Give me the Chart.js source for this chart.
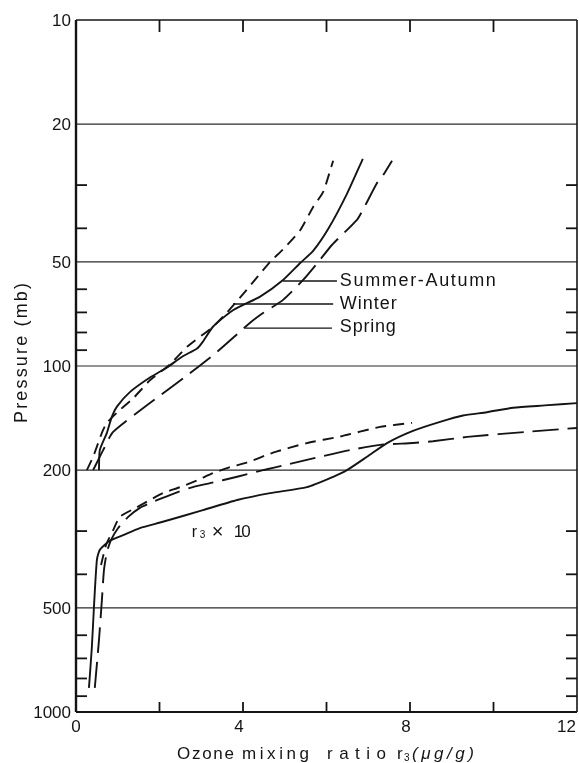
<!DOCTYPE html>
<html><head><meta charset="utf-8">
<script src="https://cdn.jsdelivr.net/npm/chart.js@4.4.1/dist/chart.umd.min.js"></script>
<style>html,body{margin:0;padding:0;background:#fff;overflow:hidden}</style>
</head><body>
<canvas id="c" width="579" height="763"></canvas>
<script>
// ---- tick values ----
const pressureTickLabels = [10, 20, 50, 100, 200, 500, 1000];
const gridPressures = [20, 50, 100, 200, 500];
const minorPressures = [30, 40, 60, 70, 80, 90, 300, 400, 600, 700, 800, 900];
const xTickLabels = [0, 4, 8, 12];
const xTickMarks = [2, 4, 6, 8, 10];
const seasonNames = ['Summer-Autumn', 'Winter', 'Spring'];

// ---- ozone mixing ratio r3 (ug/g) vs pressure (mb), upper group ----
const upperSummerAutumn = [[0.26,200],[0.41,183],[0.62,156],[0.74,146],[1.05,134],[1.37,124],[1.77,110],[2.25,99],[2.66,88],[3.28,77],[3.62,70],[4.0,62],[4.36,55],[4.65,50],[4.96,46],[5.37,40.5],[5.68,34.7],[5.92,31.4],[6.16,25.5]];
const upperWinter = [[0.55,200],[0.57,175],[0.74,156],[0.86,140],[0.98,131],[1.29,119],[1.77,108],[2.18,101],[2.54,94],[2.90,89],[3.04,85],[3.28,77],[3.76,69],[4.41,63],[4.96,56.4],[5.37,50.4],[5.68,46.5],[6.05,40],[6.49,31.8],[6.87,25.2]];
const upperSpring = [[0.41,200],[0.65,175],[0.89,155],[1.77,128],[2.68,106],[3.38,91],[4.17,75],[4.48,70.3],[4.96,64.4],[5.44,56.4],[5.84,49.4],[6.13,44.7],[6.73,37.8],[6.87,35.4],[7.21,29.6],[7.33,28.4],[7.57,25.5]];

// ---- r3 x 10, lower group ----
const lowerSummerAutumn = [[0.60,376],[0.72,329],[0.89,298],[1.05,273],[1.46,256],[1.77,244],[2.08,233],[2.49,224],[2.90,214],[3.28,204],[3.69,196],[4.10,190],[4.72,178],[5.53,167],[6.32,160],[7.28,150],[8.05,146]];
const lowerWinter = [[0.31,852],[0.38,649],[0.43,497],[0.50,364],[0.57,340],[0.81,320],[1.13,308],[1.53,294],[2.08,282],[3.04,261],[3.86,244],[4.65,233],[5.53,224],[6.16,209],[6.49,200],[6.97,183],[7.45,167],[8.07,154],[8.72,145],[9.27,139],[9.84,136],[10.47,132],[11.23,130],[12.0,128]];
const lowerSpring = [[0.45,852],[0.55,620],[0.62,475],[0.67,389],[0.74,345],[0.84,318],[1.01,294],[1.25,273],[1.53,257],[1.84,247],[2.25,236],[2.73,225],[3.21,218],[3.86,209],[4.48,200],[4.72,197],[5.68,185],[6.56,175],[7.28,169],[8.07,167],[8.55,165],[9.44,160],[10.80,155],[12.0,151]];

// ---- label leader lines ----
const leaderSummerAutumn = [[4.96,56.8],[6.25,56.8]];
const leaderWinter = [[3.76,66.2],[6.16,66.2]];
const leaderSpring = [[4.05,77.7],[6.13,77.7]];

const INK = '#141414';
const FONT = "'Liberation Sans', Arial, sans-serif";
const SHORT = [11, 7];
const LONG = [26, 9];

function ds(label, data, dash, width) {
  return { label, data, borderColor: INK, borderWidth: width || 1.9, borderDash: dash,
    pointRadius: 0, tension: 0.2, fill: false, borderCapStyle: 'butt' };
}

function drawSpaced(ctx, text, x, y, target) {
  ctx.letterSpacing = '0px';
  const w = ctx.measureText(text).width;
  const n = [...text].length;
  const sp = n > 1 ? (target - w) / (n - 1) : 0;
  ctx.letterSpacing = sp + 'px';
  ctx.fillText(text, x, y);
  ctx.letterSpacing = '0px';
}

const framePlugin = {
  id: 'frame',
  beforeDatasetsDraw(chart) {
    const { ctx, chartArea: a, scales: { y } } = chart;
    ctx.save();
    ctx.strokeStyle = '#2a2a2a'; ctx.lineWidth = 1.2;
    gridPressures.forEach(p => {
      const py = y.getPixelForValue(p);
      ctx.beginPath(); ctx.moveTo(a.left, py); ctx.lineTo(a.right, py); ctx.stroke();
    });
    ctx.restore();
  },
  afterDatasetsDraw(chart) {
    const { ctx, chartArea: a, scales: { x, y } } = chart;
    ctx.save();
    ctx.strokeStyle = INK; ctx.fillStyle = INK;
    // frame
    ctx.lineWidth = 1.6;
    ctx.beginPath(); ctx.moveTo(a.left, a.top); ctx.lineTo(a.right, a.top); ctx.stroke();
    ctx.beginPath(); ctx.moveTo(a.right, a.top); ctx.lineTo(a.right, a.bottom); ctx.stroke();
    ctx.lineWidth = 2;
    ctx.beginPath(); ctx.moveTo(a.left, a.bottom); ctx.lineTo(a.right, a.bottom); ctx.stroke();
    ctx.lineWidth = 2.4;
    ctx.beginPath(); ctx.moveTo(a.left, a.top); ctx.lineTo(a.left, a.bottom); ctx.stroke();
    // inward ticks
    ctx.lineWidth = 1.8;
    xTickMarks.forEach(v => {
      const px = x.getPixelForValue(v);
      ctx.beginPath(); ctx.moveTo(px, a.top); ctx.lineTo(px, a.top + 12); ctx.stroke();
      ctx.beginPath(); ctx.moveTo(px, a.bottom); ctx.lineTo(px, a.bottom - 10); ctx.stroke();
    });
    minorPressures.forEach(p => {
      const py = y.getPixelForValue(p);
      ctx.beginPath(); ctx.moveTo(a.left, py); ctx.lineTo(a.left + 11, py); ctx.stroke();
      ctx.beginPath(); ctx.moveTo(a.right, py); ctx.lineTo(a.right - 11, py); ctx.stroke();
    });
    // y tick labels
    ctx.font = '17px ' + FONT;
    ctx.textAlign = 'right'; ctx.textBaseline = 'middle';
    pressureTickLabels.forEach(p => {
      ctx.fillText(String(p), a.left - 5, y.getPixelForValue(p) + 1);
    });
    // x tick labels
    xTickLabels.forEach((v, i) => {
      const px = x.getPixelForValue(v);
      if (i === xTickLabels.length - 1) { ctx.textAlign = 'right'; ctx.fillText(String(v), a.right - 1, a.bottom + 15); }
      else { ctx.textAlign = 'center'; ctx.fillText(String(v), px - (v > 0 ? 4 : 0), a.bottom + 15); }
    });
    // y title
    ctx.save();
    ctx.font = '18px ' + FONT;
    ctx.translate(27, y.getPixelForValue(100) - 13);
    ctx.rotate(-Math.PI / 2);
    ctx.textAlign = 'left'; ctx.textBaseline = 'alphabetic';
    drawSpaced(ctx, 'Pressure (mb)', -70, 0, 140);
    ctx.restore();
    // x title
    ctx.font = '17px ' + FONT;
    ctx.textAlign = 'left'; ctx.textBaseline = 'alphabetic';
    const by = 759;
    drawSpaced(ctx, 'Ozone', 177, by, 57);
    drawSpaced(ctx, 'mixing', 242, by, 67);
    drawSpaced(ctx, 'ratio', 327, by, 59);
    ctx.fillText('r', 397, by);
    ctx.font = '10px ' + FONT; ctx.fillText('3', 404, by + 2);
    ctx.font = 'italic 17px ' + FONT;
    drawSpaced(ctx, '(\u03bcg/g)', 412, by, 62);
    // season labels
    ctx.font = '18px ' + FONT;
    ctx.textBaseline = 'middle';
    const lx = x.getPixelForValue(6.32);
    drawSpaced(ctx, seasonNames[0], lx, y.getPixelForValue(56.8), 156);
    drawSpaced(ctx, seasonNames[1], lx, y.getPixelForValue(66.2), 57);
    drawSpaced(ctx, seasonNames[2], lx, y.getPixelForValue(77.7) - 1, 56);
    // r3 x 10 label
    ctx.textBaseline = 'alphabetic';
    ctx.font = '16px ' + FONT;
    const rx = x.getPixelForValue(2.77), ry = y.getPixelForValue(300) + 6;
    ctx.fillText('r', rx, ry);
    ctx.font = '10px ' + FONT; ctx.fillText('3', rx + 8, ry + 1);
    ctx.font = '20px ' + FONT; ctx.fillText('\u00d7', rx + 20, ry + 1);
    ctx.font = '17px ' + FONT; drawSpaced(ctx, '10', rx + 42, ry, 17);
    ctx.restore();
  }
};

new Chart(document.getElementById('c'), {
  type: 'line',
  data: {
    datasets: [
      ds(seasonNames[0], upperSummerAutumn, SHORT),
      ds(seasonNames[1], upperWinter, []),
      ds(seasonNames[2], upperSpring, LONG),
      ds(seasonNames[0] + ' x10', lowerSummerAutumn, SHORT),
      ds(seasonNames[1] + ' x10', lowerWinter, []),
      ds(seasonNames[2] + ' x10', lowerSpring, LONG),
      ds('leader1', leaderSummerAutumn, [], 1.4),
      ds('leader2', leaderWinter, [], 1.4),
      ds('leader3', leaderSpring, [], 1.4)
    ]
  },
  options: {
    responsive: false,
    animation: false,
    devicePixelRatio: 1,
    layout: { padding: { left: 76, right: 2, top: 20, bottom: 51 } },
    scales: {
      x: { type: 'linear', min: 0, max: 12, display: false },
      y: { type: 'logarithmic', min: 10, max: 1000, reverse: true, display: false }
    },
    plugins: { legend: { display: false }, tooltip: { enabled: false } }
  },
  plugins: [framePlugin]
});
</script>
</body></html>
